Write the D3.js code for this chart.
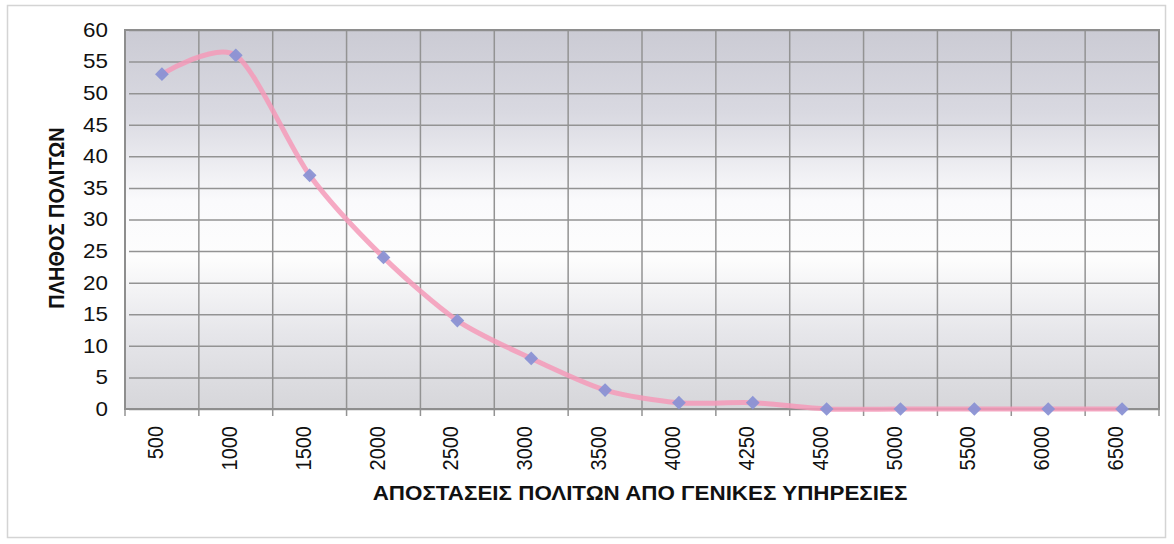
<!DOCTYPE html>
<html>
<head>
<meta charset="utf-8">
<script src="https://cdn.jsdelivr.net/npm/d3@7"></script>
<style>
  body { margin: 0; background: #fff; }
  text { font-family: "Liberation Sans", Arial, sans-serif; }
</style>
</head>
<body>
<div id="chart"></div>
<script>
(function() {

    // data
    var categories = ["500", "1000", "1500", "2000", "2500", "3000", "3500",
                      "4000", "4250", "4500", "5000", "5500", "6000", "6500"];
    var citizens = [53, 56, 37, 24, 14, 8, 3, 1, 1, 0, 0, 0, 0, 0];
    var yTicks = [0, 5, 10, 15, 20, 25, 30, 35, 40, 45, 50, 55, 60];
    var xTitle = "ΑΠΟΣΤΑΣΕΙΣ ΠΟΛΙΤΩΝ ΑΠΟ ΓΕΝΙΚΕΣ ΥΠΗΡΕΣΙΕΣ";
    var yTitle = "ΠΛΗΘΟΣ ΠΟΛΙΤΩΝ";

    var width = 1174;
    var height = 544;
    var left = 125, right = 1159, top = 30, bottom = 409;
    var stretch = 1.12; // the scan is a bit wider than tall

    var svg = d3.select("#chart").append("svg")
        .attr("width", width)
        .attr("height", height);

    // outer chart frame
    svg.append("rect")
        .attr("x", 7.5).attr("y", 5.5)
        .attr("width", 1158).attr("height", 532)
        .attr("fill", "#fff")
        .attr("stroke", "#d4d4d4")
        .attr("stroke-width", 1.5);

    var defs = svg.append("defs");
    var grad = defs.append("linearGradient")
        .attr("id", "bg").attr("x1", 0).attr("y1", 0).attr("x2", 0).attr("y2", 1);
    grad.append("stop").attr("offset", "0%").attr("stop-color", "#cbcbd4");
    grad.append("stop").attr("offset", "22%").attr("stop-color", "#d9d9e1");
    grad.append("stop").attr("offset", "45%").attr("stop-color", "#fafafc");
    grad.append("stop").attr("offset", "60%").attr("stop-color", "#fdfdfd");
    grad.append("stop").attr("offset", "80%").attr("stop-color", "#e6e6ea");
    grad.append("stop").attr("offset", "100%").attr("stop-color", "#d6d6da");

    var x = d3.scaleBand()
        .domain(categories)
        .range([left, right])
        .padding(0);

    var y = d3.scaleLinear()
        .domain([0, 60])
        .range([bottom, top]);

    svg.append("rect")
        .attr("x", left).attr("y", top)
        .attr("width", right - left).attr("height", bottom - top)
        .attr("fill", "url(#bg)");

    // horizontal grid + y axis
    var yAxis = svg.append("g")
        .attr("transform", "translate(" + left + ",0)")
        .call(d3.axisLeft(y).tickValues(yTicks).tickSize(-(right - left)).tickSizeOuter(0));
    yAxis.select(".domain").remove();
    yAxis.selectAll(".tick line")
        .attr("stroke", "#939393")
        .attr("stroke-width", 1.5)
        .attr("x1", 4);
    yAxis.selectAll(".tick text")
        .attr("x", -17 / stretch)
        .attr("transform", "scale(" + stretch + ",1)")
        .attr("fill", "#111")
        .style("font-size", "20px");

    // vertical grid at category boundaries
    var bounds = categories.map(function(c) { return x(c); }).concat([right]);
    svg.append("g").selectAll("line")
        .data(bounds)
        .enter().append("line")
        .attr("x1", function(d) { return d; })
        .attr("x2", function(d) { return d; })
        .attr("y1", top)
        .attr("y2", bottom + 7)
        .attr("stroke", "#939393")
        .attr("stroke-width", 1.5);

    // plot border
    svg.append("rect")
        .attr("x", left).attr("y", top)
        .attr("width", right - left).attr("height", bottom - top)
        .attr("fill", "none")
        .attr("stroke", "#8e8e8e")
        .attr("stroke-width", 2);

    // x tick labels
    svg.append("g").selectAll("text")
        .data(categories)
        .enter().append("text")
        .attr("transform", function(d) {
            return "translate(" + (x(d) + x.bandwidth() / 2 + 1) + ",426) rotate(-90) scale(1," + stretch + ")";
        })
        .attr("text-anchor", "end")
        .attr("fill", "#111")
        .style("font-size", "20px")
        .text(function(d) { return d; });

    // smoothed line
    var line = d3.line()
        .x(function(d, i) { return x(categories[i]) + x.bandwidth() / 2; })
        .y(function(d) { return y(d); })
        .curve(d3.curveCardinal.tension(0.2));

    svg.append("path")
        .datum(citizens)
        .attr("d", line)
        .attr("fill", "none")
        .attr("stroke", "#f59ab9")
        .attr("stroke-opacity", 0.85)
        .attr("stroke-width", 5)
        .attr("stroke-linecap", "round");

    // diamond markers
    var diamond = d3.symbol().type(d3.symbolDiamond2).size(120);
    svg.append("g").selectAll("path")
        .data(citizens)
        .enter().append("path")
        .attr("d", diamond)
        .attr("transform", function(d, i) {
            return "translate(" + (x(categories[i]) + x.bandwidth() / 2) + "," + y(d) + ")";
        })
        .attr("fill", "#8a92d4")
        .attr("fill-opacity", 0.95);

    // axis titles
    svg.append("text")
        .attr("transform", "translate(640,500) scale(" + stretch + ",1)")
        .attr("text-anchor", "middle")
        .attr("font-weight", "bold")
        .attr("fill", "#111")
        .style("font-size", "20px")
        .text(xTitle);

    svg.append("text")
        .attr("transform", "translate(64,218) rotate(-90) scale(1," + stretch + ")")
        .attr("text-anchor", "middle")
        .attr("font-weight", "bold")
        .attr("fill", "#111")
        .style("font-size", "20px")
        .text(yTitle);

})();
</script>
</body>
</html>
